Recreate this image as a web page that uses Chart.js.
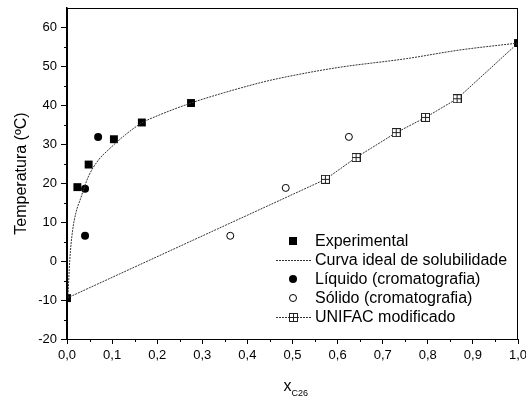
<!DOCTYPE html>
<html>
<head>
<meta charset="utf-8">
<script src="https://cdn.jsdelivr.net/npm/chart.js@4"></script>
<style>
  body { margin: 0; background: #fff; }
  canvas { display: block; }
</style>
</head>
<body>
<canvas id="chart" width="526" height="396"></canvas>
<script>
// values
const expX = [0, 0.023, 0.048, 0.104, 0.166, 0.275, 1.0];
const expT = [-9.5, 19.0, 24.8, 31.3, 35.6, 40.6, 56.0];

const idealX = [0.002, 0.006, 0.012, 0.02, 0.03, 0.047, 0.07, 0.092, 0.13, 0.166, 0.2, 0.275, 0.35, 0.435, 0.494, 0.6, 0.753, 0.87, 1.0];
const idealT = [-9.5, 0, 7.5, 12.5, 16, 21.6, 26, 28.6, 32.5, 35.5, 37.3, 40.6, 43.3, 46.0, 47.5, 49.7, 52.0, 54.2, 56.0];

const liqX = [0.040, 0.069, 0.040];
const liqT = [18.6, 31.9, 6.5];

const solX = [0.362, 0.485, 0.625];
const solT = [6.5, 18.8, 31.9];

const unifacX = [0, 0.573, 0.641, 0.730, 0.795, 0.865, 1.0];
const unifacT = [-9.5, 21.0, 26.6, 33.0, 36.9, 41.7, 56.0];

const xTicks = [0, 0.1, 0.2, 0.3, 0.4, 0.5, 0.6, 0.7, 0.8, 0.9, 1.0];
const yTicks = [-20, -10, 0, 10, 20, 30, 40, 50, 60];

const legendLabels = ["Experimental", "Curva ideal de solubilidade", "Líquido (cromatografia)", "Sólido (cromatografia)", "UNIFAC modificado"];

function pts(xs, ys) {
  return xs.map((x, i) => ({ x: x, y: ys[i] }));
}

// square with a plus inside, for the UNIFAC points
function boxPlus() {
  const c = document.createElement("canvas");
  c.width = 9;
  c.height = 9;
  const g = c.getContext("2d");
  g.fillStyle = "#fff";
  g.fillRect(0, 0, 9, 9);
  g.strokeStyle = "#222";
  g.lineWidth = 1;
  g.strokeRect(0.5, 0.5, 8, 8);
  g.beginPath();
  g.moveTo(4.5, 0.5); g.lineTo(4.5, 8.5);
  g.moveTo(0.5, 4.5); g.lineTo(8.5, 4.5);
  g.stroke();
  return c;
}
const boxImg = boxPlus();

const FONT = "Arial, 'Liberation Sans', sans-serif";

const extras = {
  id: "extras",
  afterDraw(chart) {
    const ctx = chart.ctx;
    const a = chart.chartArea;
    const xs = chart.scales.x, ys = chart.scales.y;
    ctx.save();
    // frame
    ctx.strokeStyle = "#000";
    ctx.lineWidth = 1;
    ctx.strokeRect(a.left + 0.5, a.top + 0.5, a.right - a.left - 1, a.bottom - a.top);

    // minor ticks
    ctx.beginPath();
    for (let v = 0.05; v < 1; v += 0.1) {
      const px = Math.round(xs.getPixelForValue(v)) + 0.5;
      ctx.moveTo(px, a.bottom);
      ctx.lineTo(px, a.bottom + 3);
    }
    for (let v = -15; v < 65; v += 10) {
      const py = Math.round(ys.getPixelForValue(v)) + 0.5;
      ctx.moveTo(a.left, py);
      ctx.lineTo(a.left - 3, py);
    }
    ctx.stroke();

    // x title with subscript
    ctx.fillStyle = "#000";
    ctx.textBaseline = "alphabetic";
    ctx.font = "16px " + FONT;
    const cx = (a.left + a.right) / 2 - 9;
    ctx.fillText("x", cx, 391);
    ctx.font = "9px " + FONT;
    ctx.fillText("C26", cx + 8, 396);

    // legend
    const lx = 293, tx = 315;
    const rows = [241, 260, 279, 298, 317];
    ctx.font = "16px " + FONT;
    ctx.textBaseline = "middle";
    legendLabels.forEach((t, i) => ctx.fillText(t, tx, rows[i] + 1));

    ctx.fillRect(lx - 4, rows[0] - 4, 8, 8);

    ctx.strokeStyle = "#333";
    ctx.setLineDash([2, 1]);
    ctx.beginPath();
    ctx.moveTo(276, rows[1] + 0.5); ctx.lineTo(312, rows[1] + 0.5);
    ctx.moveTo(276, rows[4] + 0.5); ctx.lineTo(312, rows[4] + 0.5);
    ctx.stroke();
    ctx.setLineDash([]);

    ctx.beginPath();
    ctx.arc(lx, rows[2], 4, 0, Math.PI * 2);
    ctx.fill();

    ctx.strokeStyle = "#000";
    ctx.beginPath();
    ctx.arc(lx, rows[3], 3.5, 0, Math.PI * 2);
    ctx.stroke();

    ctx.drawImage(boxImg, lx - 4, rows[4] - 4);
    ctx.restore();
  }
};

const commaFmt = v => Number(v).toFixed(1).replace(".", ",");

new Chart(document.getElementById("chart"), {
  type: "scatter",
  data: {
    datasets: [
      {
        label: legendLabels[1],
        data: pts(idealX, idealT),
        showLine: true,
        borderColor: "#333",
        borderWidth: 1,
        borderDash: [2, 1],
        pointRadius: 0,
        cubicInterpolationMode: "monotone"
      },
      {
        label: legendLabels[4],
        data: pts(unifacX, unifacT),
        showLine: true,
        borderColor: "#333",
        borderWidth: 1,
        borderDash: [2, 1],
        pointStyle: boxImg,
        pointRadius: unifacX.map((x, i) => (i === 0 || i === unifacX.length - 1) ? 0 : 4)
      },
      {
        label: legendLabels[0],
        data: pts(expX, expT),
        pointStyle: "rect",
        pointRadius: 5.6,
        backgroundColor: "#000",
        borderColor: "#000",
        borderWidth: 0
      },
      {
        label: legendLabels[2],
        data: pts(liqX, liqT),
        pointStyle: "circle",
        pointRadius: 4,
        backgroundColor: "#000",
        borderColor: "#000",
        borderWidth: 0
      },
      {
        label: legendLabels[3],
        data: pts(solX, solT),
        pointStyle: "circle",
        pointRadius: 3.5,
        backgroundColor: "#fff",
        borderColor: "#000",
        borderWidth: 1
      }
    ]
  },
  options: {
    responsive: false,
    animation: false,
    devicePixelRatio: 1,
    layout: { padding: { top: 8, right: 8, left: 0, bottom: 0 } },
    plugins: {
      legend: { display: false },
      tooltip: { enabled: false }
    },
    scales: {
      x: {
        type: "linear",
        min: 0,
        max: 1,
        afterBuildTicks: s => { s.ticks = xTicks.map(v => ({ value: v })); },
        afterFit: s => { s.height = 57; s.paddingLeft = 0; s.paddingRight = 0; },
        ticks: {
          callback: commaFmt,
          color: "#000",
          font: { family: FONT, size: 13 },
          padding: 4,
          maxRotation: 0
        },
        grid: { drawOnChartArea: false, color: "#000", tickLength: 5 },
        border: { color: "#000", width: 1 }
      },
      y: {
        type: "linear",
        min: -20,
        max: 65,
        afterBuildTicks: s => { s.ticks = yTicks.map(v => ({ value: v })); },
        afterFit: s => { s.width = 67; s.paddingTop = 0; s.paddingBottom = 0; },
        ticks: {
          color: "#000",
          font: { family: FONT, size: 13 },
          padding: 4
        },
        grid: { drawOnChartArea: false, color: "#000", tickLength: 6 },
        border: { color: "#000", width: 1.5 },
        title: {
          display: true,
          text: "Temperatura (ºC)",
          color: "#000",
          font: { family: FONT, size: 16 },
          padding: { top: 12, bottom: 0 }
        }
      }
    }
  },
  plugins: [extras]
});
</script>
</body>
</html>
